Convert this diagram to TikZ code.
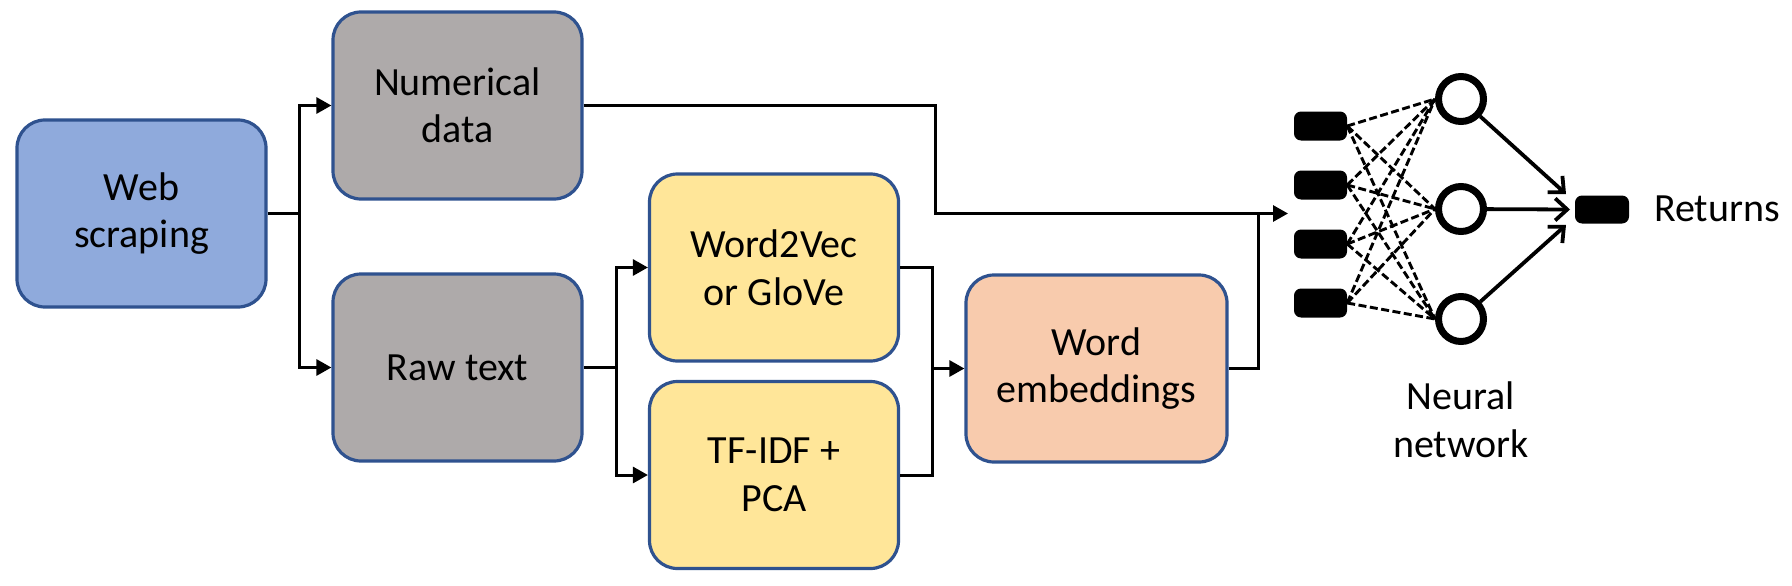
\documentclass[tikz,border=0pt]{standalone}
\usepackage{fontspec}
\setmainfont{Carlito}
\usetikzlibrary{arrows.meta}
\definecolor{webblue}{HTML}{8FAADC}
\definecolor{bordblue}{HTML}{2F528F}
\definecolor{boxgray}{HTML}{AEAAAA}
\definecolor{boxyellow}{HTML}{FFE699}
\definecolor{boxpeach}{HTML}{F8CBAD}
\begin{document}
\begin{tikzpicture}[x=1pt,y=-1pt,
  box/.style={draw=bordblue, line width=3.2pt, rounded corners=28pt, minimum width=249pt, minimum height=187pt, align=center, font=\fontsize{40}{47.5}\selectfont, inner sep=0pt},
  conn/.style={line width=3pt},
  arr/.style={conn, -{Triangle[length=15pt,width=16pt]}},
  unit/.style={fill=black, rounded corners=7pt, minimum width=53pt, minimum height=29pt, inner sep=0pt},
  neuron/.style={circle, draw, line width=7pt, minimum size=45pt, inner sep=0pt, fill=white},
  dashl/.style={line width=2.9pt, dash pattern=on 8pt off 3.5pt},
  nnarr/.style={line width=3.8pt, -{Straight Barb[length=12pt,width=22pt]}},
  lbl/.style={font=\fontsize{40}{47.5}\selectfont, align=center, inner sep=0pt}
]
\path[fill=white] (0,0) rectangle (1792,586);
\useasboundingbox (0,0) rectangle (1792,586);

% boxes
\node[box, fill=webblue] (web) at (141.5,213.5) {Web\\scraping};
\node[box, fill=boxgray] (num) at (457.5,105.5) {Numerical\\data};
\node[box, fill=boxgray] (raw) at (457.5,367.5) {Raw text};
\node[box, fill=boxyellow] (w2v) at (774,267.5) {Word2Vec\\or GloVe};
\node[box, fill=boxyellow] (tfidf) at (774,475) {TF-IDF +\\PCA};
\node[box, fill=boxpeach, minimum width=261pt] (emb) at (1096.5,368.5) {Word\\embeddings};

% junction coordinates
\coordinate (s1) at (299,213.5);
\coordinate (s2) at (616,367.5);
\coordinate (s3) at (932,368.5);
\coordinate (c3) at (935,213.5);
\coordinate (j) at (1258,213.5);
\coordinate (nnin) at (1288,213.5);

% connectors
\draw[conn] (web.east) -- (s1);
\draw[arr] (s1) |- (num.west);
\draw[arr] (s1) |- (raw.west);
\draw[conn] (raw.east) -- (s2);
\draw[arr] (s2) |- (w2v.west);
\draw[arr] (s2) |- (tfidf.west);
\draw[conn] (w2v.east) -| (s3);
\draw[conn] (tfidf.east) -| (s3);
\draw[arr] (s3) -- (emb.west);
\draw[arr] (num.east) -| (c3) -- (nnin);
\draw[conn] (emb.east) -| (j);

% neural network
\node[unit] (in1) at (1320.5,126) {};
\node[unit] (in2) at (1320.5,185) {};
\node[unit] (in3) at (1320.5,244) {};
\node[unit] (in4) at (1320.5,303) {};
\node[neuron] (h1) at (1461,99) {};
\node[neuron] (h2) at (1461,209) {};
\node[neuron] (h3) at (1461,319) {};
\node[unit, minimum width=54pt, minimum height=28pt] (out) at (1602,209.5) {};

\foreach \i in {1,...,4}{
  \foreach \k in {1,2,3}{
    \draw[dashl] (in\i.east) -- (h\k.west);
  }
}

\coordinate (t1) at (1566,194);
\coordinate (t2) at (1570,209.5);
\coordinate (t3) at (1566,225);
\draw[nnarr] (h1) -- (t1);
\draw[nnarr] (h2) -- (t2);
\draw[nnarr] (h3) -- (t3);

\node[lbl, anchor=base west] (ret) at (1654,221) {Returns};
\node[lbl] (nnlbl) at (1461,420) {Neural\\network};
\end{tikzpicture}
\end{document}
